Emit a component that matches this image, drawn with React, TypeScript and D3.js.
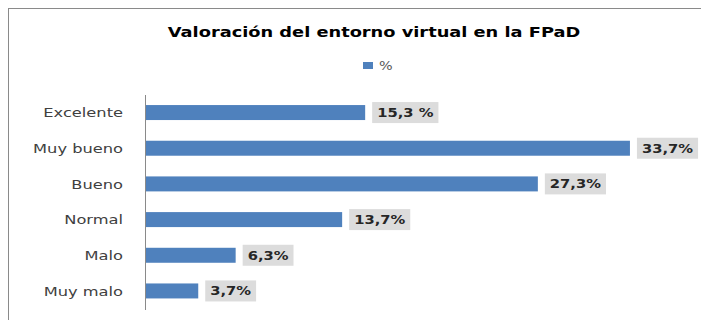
import React, { useEffect, useRef } from "react";
import * as d3 from "d3";

const categories = ["Excelente", "Muy bueno", "Bueno", "Normal", "Malo", "Muy malo"];
const values = [15.3, 33.7, 27.3, 13.7, 6.3, 3.7];
const valueLabels = ["15,3 %", "33,7%", "27,3%", "13,7%", "6,3%", "3,7%"];
const title = "Valoración del entorno virtual en la FPaD";
const seriesName = "%";

const W = 701;
const H = 320;
const FONT = "'DejaVu Sans', Verdana, sans-serif";

export default function App() {
  const ref = useRef<SVGSVGElement>(null);

  useEffect(() => {
    const svg = d3.select(ref.current);
    svg.selectAll("*").remove();

    svg.append("rect").attr("x", 0).attr("y", 0).attr("width", W).attr("height", H).attr("fill", "#fff");
    svg.append("rect")
      .attr("x", 8.5).attr("y", 8.5).attr("width", 900).attr("height", 400)
      .attr("fill", "none").attr("stroke", "#8a8a8a").attr("stroke-width", 1);

    const x = d3.scaleLinear().domain([0, 40]).range([145, 720.6]);
    const y = d3.scaleBand<string>().domain(categories).range([94, 309.5])
      .paddingInner(0.58).paddingOuter(0.31);

    svg.append("text")
      .attr("transform", "translate(374,37) scale(1.27,1)")
      .attr("text-anchor", "middle")
      .attr("font-family", FONT).attr("font-weight", "bold").attr("font-size", 14)
      .attr("fill", "#000").text(title);

    // legend
    svg.append("rect").attr("x", 363).attr("y", 62).attr("width", 10).attr("height", 7).attr("fill", "#4f81bd");
    svg.append("text").attr("transform", "translate(379,66) scale(1.2,1)").attr("dy", "0.35em")
      .attr("font-family", FONT).attr("font-size", 12).attr("fill", "#595959").text(seriesName);

    // axis line
    svg.append("line").attr("x1", 145.5).attr("x2", 145.5).attr("y1", 95).attr("y2", 310)
      .attr("stroke", "#8a8a8a").attr("stroke-width", 1);

    // category labels
    svg.append("g").selectAll("text").data(categories).join("text")
      .attr("transform", (d) => `translate(123,${(y(d) as number) + y.bandwidth() / 2}) scale(1.25,1)`)
      .attr("dy", "0.36em").attr("text-anchor", "end")
      .attr("font-family", FONT).attr("font-size", 13).attr("fill", "#404040")
      .text((d) => d);

    // bars
    svg.append("g").selectAll("rect").data(values).join("rect")
      .attr("x", x(0) + 1)
      .attr("y", (_, i) => y(categories[i]) as number)
      .attr("width", (d) => x(d) - x(0) - 1)
      .attr("height", y.bandwidth())
      .attr("fill", "#4f81bd");

    // value labels
    const S = 1.18;
    const lg = svg.append("g");
    values.forEach((v, i) => {
      const cy = (y(categories[i]) as number) + y.bandwidth() / 2;
      const bx = x(v) + 7;
      const g = lg.append("g");
      const r = g.append("rect").attr("fill", "#dcdcdc");
      const t = g.append("text")
        .attr("transform", `translate(${bx + 5},${cy}) scale(${S},1)`).attr("dy", "0.36em")
        .attr("font-family", FONT).attr("font-weight", "bold").attr("font-size", 12.5)
        .attr("fill", "#262626").text(valueLabels[i]);
      const tw = (t.node() as SVGTextElement).getComputedTextLength() * S;
      r.attr("x", bx).attr("y", cy - 10.5).attr("width", tw + 10).attr("height", 21);
    });
  }, []);

  return (
    <svg ref={ref} width={W} height={H}
      style={{ position: "absolute", left: 0, top: 0, display: "block" }} />
  );
}
